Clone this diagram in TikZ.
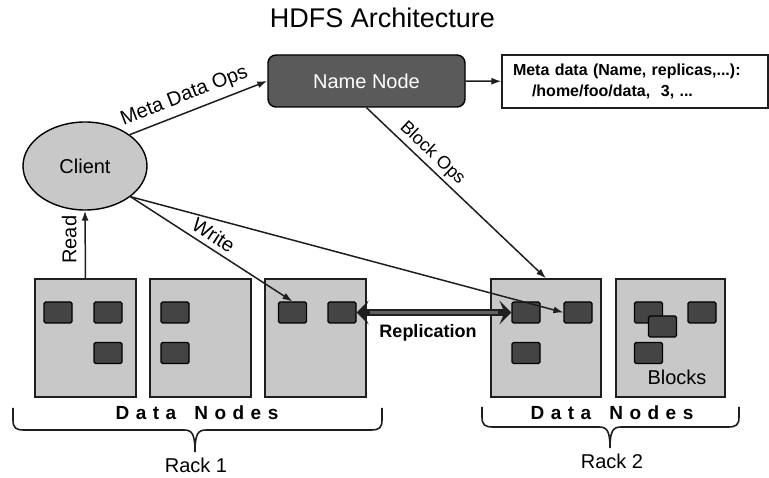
\documentclass[tikz,border=0pt]{standalone}
\usepackage{fontspec}
\setmainfont{Liberation Sans}
\usetikzlibrary{arrows.meta,shapes.geometric,calc}
\definecolor{boxgray}{RGB}{200,200,200}
\definecolor{blockgray}{RGB}{68,68,68}
\definecolor{namegray}{RGB}{90,90,90}
\definecolor{linegray}{RGB}{30,30,30}
\begin{document}
\begin{tikzpicture}[x=1pt,y=-1pt,
  dnbox/.style={draw=linegray, line width=1.4pt, fill=boxgray, minimum height=118pt, inner sep=0pt},
  blk/.style={draw=black, line width=1.1pt, fill=blockgray, rounded corners=1.5pt, minimum width=28pt, minimum height=21pt, inner sep=0pt},
  conn/.style={draw=linegray, line width=1.5pt, -{Latex[length=10pt,width=7pt]}},
  lbl/.style={font=\fontsize{20}{22}\selectfont, inner sep=5pt},
  bigtxt/.style={font=\fontsize{20}{24}\selectfont, inner sep=0pt},
  dntxt/.style={font=\fontsize{19}{22}\selectfont\bfseries, inner sep=0pt, anchor=base},
  bracepath/.style={draw=linegray, line width=1.6pt},
  replouter/.style={draw=black!88, line width=7pt, {Stealth[length=12pt,width=24pt,inset=5pt]}-{Stealth[length=12pt,width=24pt,inset=5pt]}},
  replinner/.style={draw=black!62, line width=3pt, shorten <=13pt, shorten >=13pt},
]
\useasboundingbox (0,0) rectangle (769,478);

% title
\node[font=\fontsize{27}{31}\selectfont, inner sep=0pt, anchor=base] (title) at (382.5,28) {HDFS Architecture};

% name node, client, metadata
\node[draw=black, line width=1.4pt, fill=namegray, rounded corners=8pt, minimum width=197pt, minimum height=52pt, text=white, font=\fontsize{20}{24}\selectfont] (namenode) at (366.5,81) {Name Node};
\node[ellipse, draw=black, line width=1.4pt, fill=boxgray, minimum width=124pt, minimum height=88pt, inner sep=0pt, font=\fontsize{20}{24}\selectfont] (client) at (85,166) {Client};
\node[draw=linegray, line width=1.2pt, fill=white, minimum width=266pt, minimum height=53pt, inner xsep=11pt, text width=244pt, align=left, font=\fontsize{16}{21}\selectfont\bfseries] (meta) at (635,81.5) {Meta data (Name, replicas,...):\\\hspace*{19pt}/home/foo/data,\ \ 3, ...};

% data node boxes
\node[dnbox, minimum width=101pt] (dn1) at (85.5,338) {};
\node[dnbox, minimum width=101pt] (dn2) at (200.5,338) {};
\node[dnbox, minimum width=101pt] (dn3) at (315.5,338) {};
\node[dnbox, minimum width=110pt] (dn4) at (546,338) {};
\node[dnbox, minimum width=109pt] (dn5) at (670.5,338) {};

% blocks
\node[blk] (b1a) at (58,312.5) {};
\node[blk] (b1b) at (108,312.5) {};
\node[blk] (b1c) at (108,353) {};
\node[blk] (b2a) at (175,312.5) {};
\node[blk] (b2b) at (175,353) {};
\node[blk] (b3a) at (292.5,312.5) {};
\node[blk] (b3b) at (342,312.5) {};
\node[blk] (b4a) at (526,312.5) {};
\node[blk] (b4b) at (578,312.5) {};
\node[blk] (b4c) at (526,353) {};
\node[blk] (b5a) at (648.5,312.5) {};
\node[blk] (b5b) at (662.5,326.5) {};
\node[blk] (b5c) at (702,312.5) {};
\node[blk] (b5d) at (648.5,353) {};
\node[bigtxt, anchor=base] (blocks) at (677,385) {Blocks};

% connectors
\draw[conn] (client.35) -- node[lbl, sloped, above, pos=0.44, inner sep=6pt] {Meta Data Ops} (namenode.west);
\draw[conn] (namenode) -- (meta);
\draw[conn] (namenode.south) -- node[lbl, sloped, above, pos=0.32, inner sep=3pt, font=\fontsize{18}{20}\selectfont] {Block Ops} (dn4.north);
\draw[conn] (dn1.north) -- node[lbl, pos=0.57, rotate=90, anchor=south, inner ysep=8pt] {Read} (client.south);
\draw[conn] (client.-34) -- node[lbl, sloped, above, pos=0.47] {Write} (b3a.north);
\draw[conn] (client.-34) -- (b4b.west);
\draw[replouter] (b3b.east) -- (b4a.west);
\draw[replinner] (b3b.east) -- (b4a.west);
\node[font=\fontsize{18}{20}\selectfont\bfseries, inner sep=0pt, anchor=base] (repltxt) at (428,338) {Replication};

% data nodes labels
\node[dntxt] (dnl1) at (197,420) {D\hspace{6.5pt}a\hspace{6.5pt}t\hspace{6.5pt}a\hspace{18pt}N\hspace{6.5pt}o\hspace{6.5pt}d\hspace{6.5pt}e\hspace{6.5pt}s};
\node[dntxt] (dnl2) at (612,420) {D\hspace{6.5pt}a\hspace{6.5pt}t\hspace{6.5pt}a\hspace{18pt}N\hspace{6.5pt}o\hspace{6.5pt}d\hspace{6.5pt}e\hspace{6.5pt}s};

% braces
\draw[bracepath] (13,408) -- (13,420) .. controls (13,428) and (16,430) .. (24,430) -- (184,430) .. controls (192,430) and (195,434) .. (195,452)
  .. controls (195,434) and (198,430) .. (206,430) -- (371,430) .. controls (379,430) and (382,428) .. (382,420) -- (382,408);
\draw[bracepath] (482,407) -- (482,417) .. controls (482,425) and (485,427) .. (493,427) -- (599,427) .. controls (607,427) and (610,431) .. (610,448)
  .. controls (610,431) and (613,427) .. (621,427) -- (728,427) .. controls (736,427) and (739,425) .. (739,417) -- (739,407);
\node[bigtxt, anchor=base] (rack1) at (196,472) {Rack 1};
\node[bigtxt, anchor=base] (rack2) at (612,468) {Rack 2};
\end{tikzpicture}
\end{document}
